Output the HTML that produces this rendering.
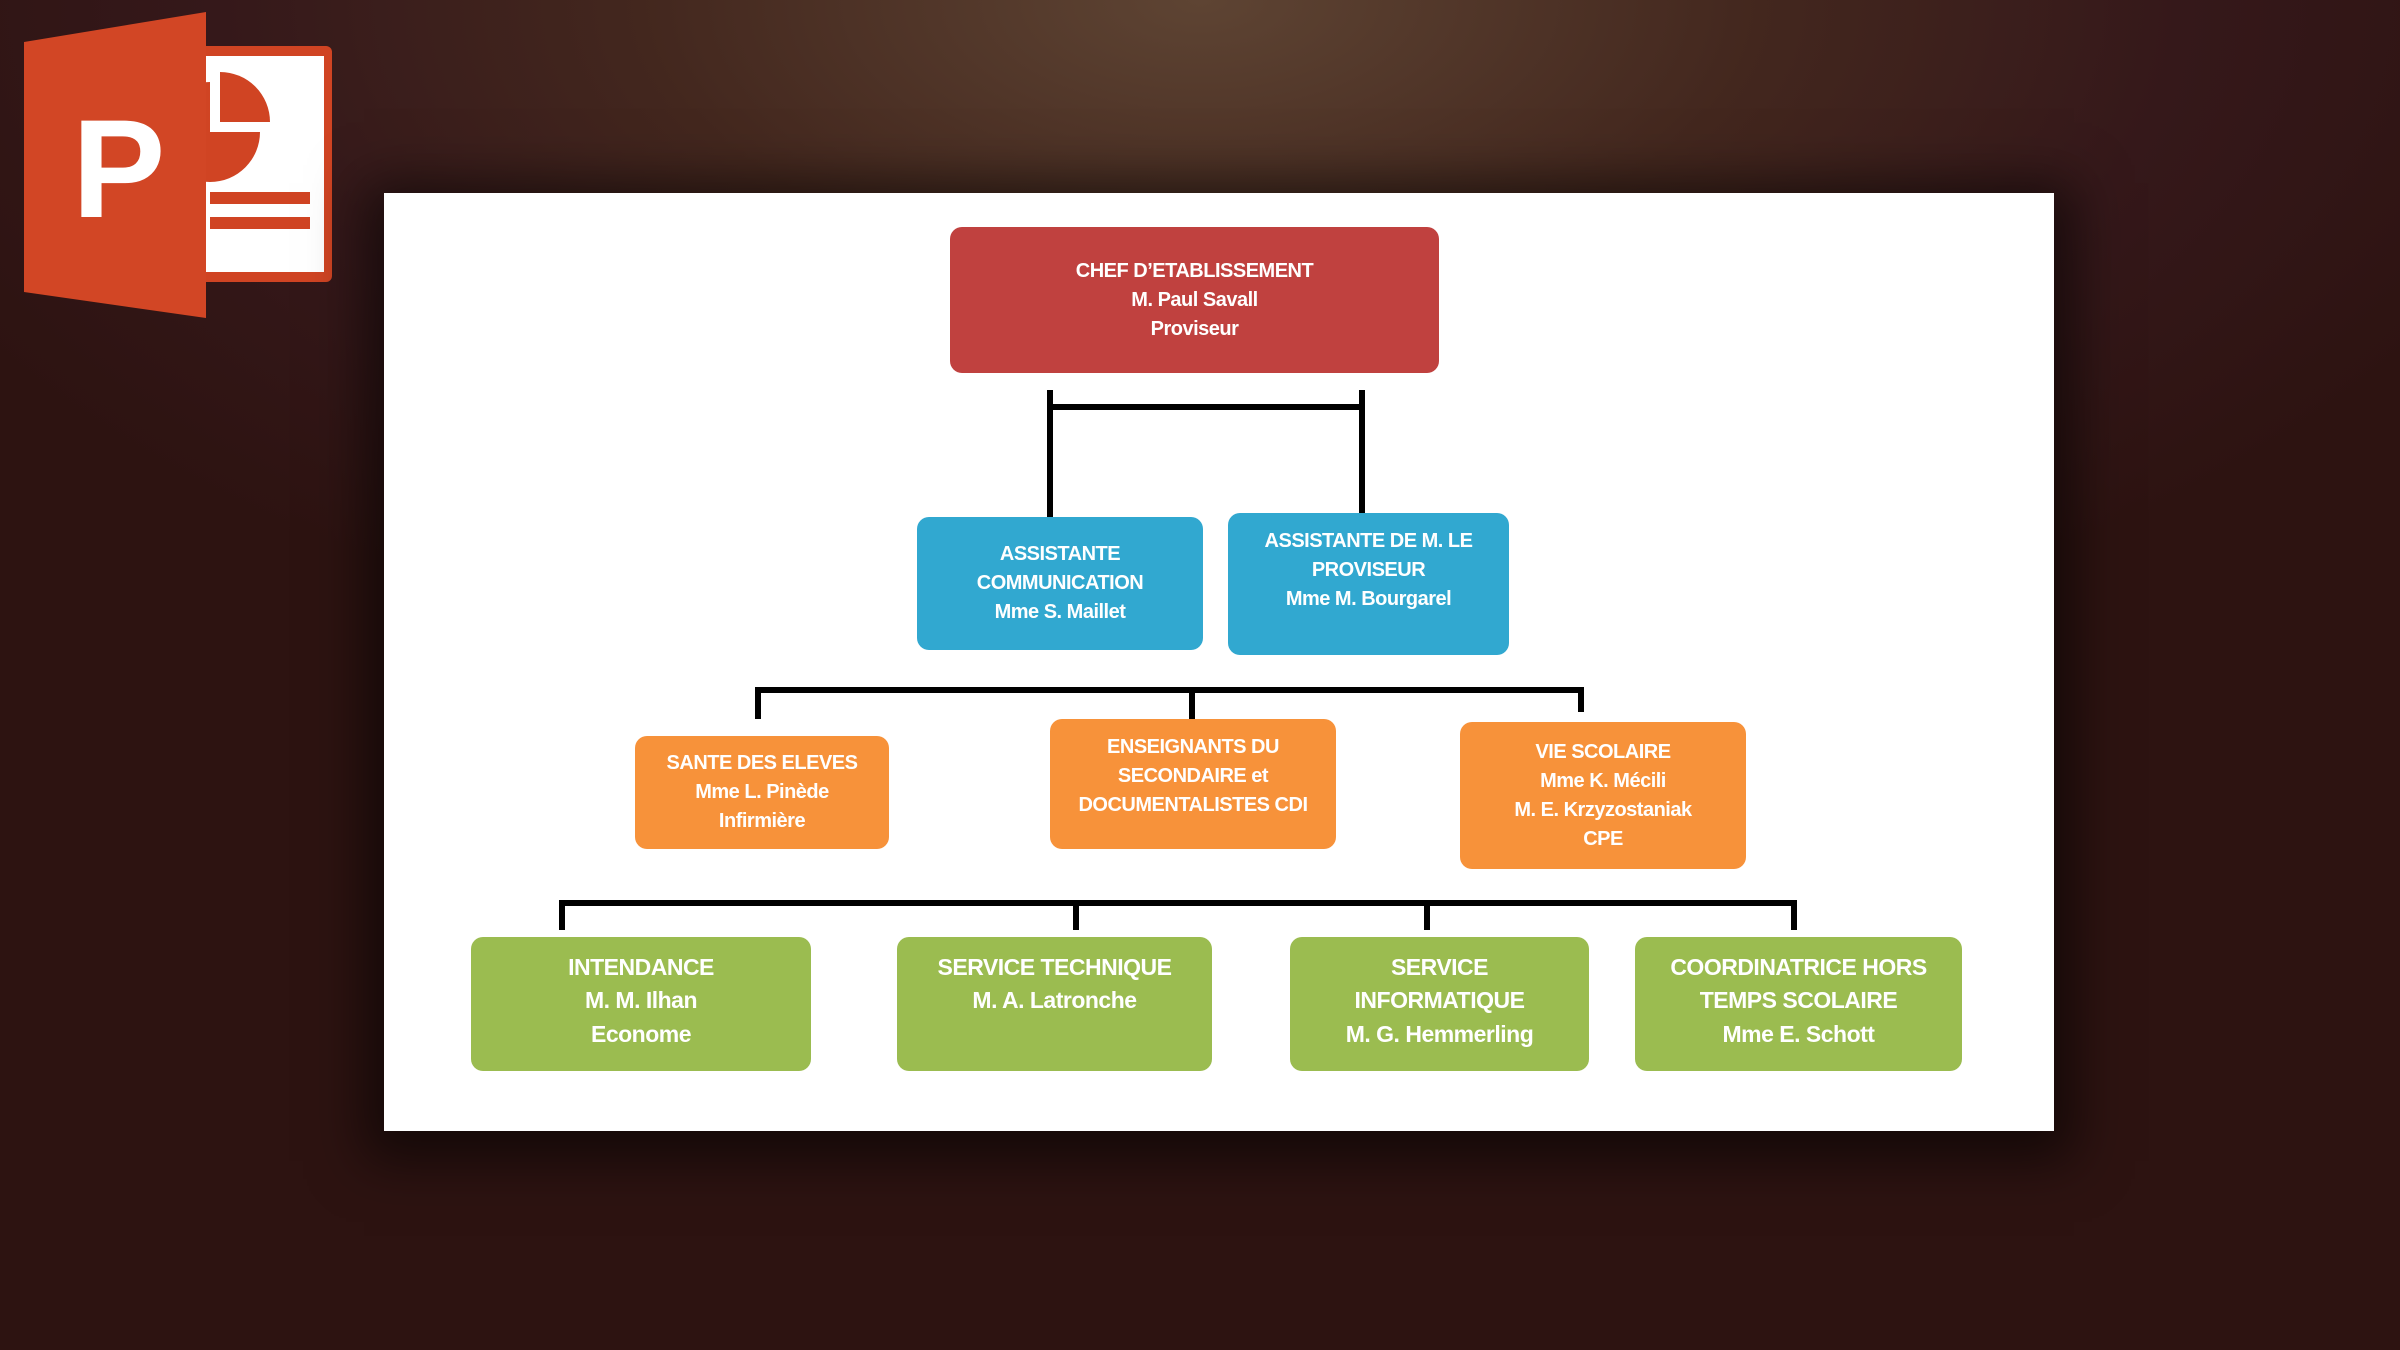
<!DOCTYPE html>
<html><head><meta charset="utf-8"><style>
*{margin:0;padding:0;box-sizing:border-box}
body{width:2400px;height:1350px;overflow:hidden;position:relative;
background:radial-gradient(ellipse 1400px 700px at 1200px 0px,#5e4433 0%,#43271e 40%,#35181a 70%,#2d1311 100%);
font-family:"Liberation Sans",sans-serif}
.panel{position:absolute;left:384px;top:193px;width:1670px;height:938px;background:#fff;box-shadow:0 10px 50px 20px rgba(0,0,0,.55)}
.b{position:absolute;display:flex;align-items:center;justify-content:center;text-align:center;color:#fff;font-weight:bold;border-radius:12px;line-height:1.45;letter-spacing:-0.5px}
.r{background:#c0413f;font-size:20px}
.c{background:#31a8d0;font-size:20px}
.o{background:#f7923a;font-size:20px}
.g{background:#9bbc50;font-size:23px;align-items:flex-start;padding-top:14px}
.l{position:absolute;background:#000}
</style></head><body>
<svg style="position:absolute;left:20px;top:12px" width="320" height="310" viewBox="0 0 320 310">
<rect x="164" y="34" width="148" height="236" rx="6" fill="#d04423"/>
<rect x="174" y="44" width="130" height="216" fill="#fff"/>
<path d="M190 70 A50 50 0 1 0 240 120 L190 120 Z" fill="#d04423"/>
<path d="M200 60 A50 50 0 0 1 250 110 L200 110 Z" fill="#d04423"/>
<rect x="190" y="180" width="100" height="12" fill="#d04423"/>
<rect x="190" y="205" width="100" height="12" fill="#d04423"/>
<path d="M4 30 L186 0 L186 306 L4 280 Z" fill="#d24625"/>
<text x="52" y="205" font-family="Liberation Sans" font-weight="bold" font-size="140" fill="#fff">P</text>
</svg>
<div class="panel"></div>
<div class="l" style="left:1047px;top:404px;width:318px;height:6px"></div>
<div class="l" style="left:1047px;top:390px;width:6px;height:127px"></div>
<div class="l" style="left:1359px;top:390px;width:6px;height:123px"></div>
<div class="l" style="left:755px;top:687px;width:829px;height:6px"></div>
<div class="l" style="left:755px;top:687px;width:6px;height:32px"></div>
<div class="l" style="left:1189px;top:687px;width:6px;height:32px"></div>
<div class="l" style="left:1578px;top:687px;width:6px;height:25px"></div>
<div class="l" style="left:559px;top:900px;width:1238px;height:6px"></div>
<div class="l" style="left:559px;top:900px;width:6px;height:30px"></div>
<div class="l" style="left:1073px;top:900px;width:6px;height:30px"></div>
<div class="l" style="left:1424px;top:900px;width:6px;height:30px"></div>
<div class="l" style="left:1791px;top:900px;width:6px;height:30px"></div>
<div class="b r" style="left:950px;top:227px;width:489px;height:146px">CHEF D’ETABLISSEMENT<br>M. Paul Savall<br>Proviseur</div>
<div class="b c" style="left:917px;top:517px;width:286px;height:133px">ASSISTANTE<br>COMMUNICATION<br>Mme S. Maillet</div>
<div class="b c" style="left:1228px;top:513px;width:281px;height:142px;align-items:flex-start;padding-top:14px">ASSISTANTE DE M. LE<br>PROVISEUR<br>Mme M. Bourgarel</div>
<div class="b o" style="left:635px;top:736px;width:254px;height:113px">SANTE DES ELEVES<br>Mme L. Pinède<br>Infirmière</div>
<div class="b o" style="left:1050px;top:719px;width:286px;height:130px;align-items:flex-start;padding-top:14px">ENSEIGNANTS DU<br>SECONDAIRE et<br>DOCUMENTALISTES CDI</div>
<div class="b o" style="left:1460px;top:722px;width:286px;height:147px">VIE SCOLAIRE<br>Mme K. Mécili<br>M. E. Krzyzostaniak<br>CPE</div>
<div class="b g" style="left:471px;top:937px;width:340px;height:134px">INTENDANCE<br>M. M. Ilhan<br>Econome</div>
<div class="b g" style="left:897px;top:937px;width:315px;height:134px">SERVICE TECHNIQUE<br>M. A. Latronche</div>
<div class="b g" style="left:1290px;top:937px;width:299px;height:134px">SERVICE<br>INFORMATIQUE<br>M. G. Hemmerling</div>
<div class="b g" style="left:1635px;top:937px;width:327px;height:134px">COORDINATRICE HORS<br>TEMPS SCOLAIRE<br>Mme E. Schott</div>
</body></html>
